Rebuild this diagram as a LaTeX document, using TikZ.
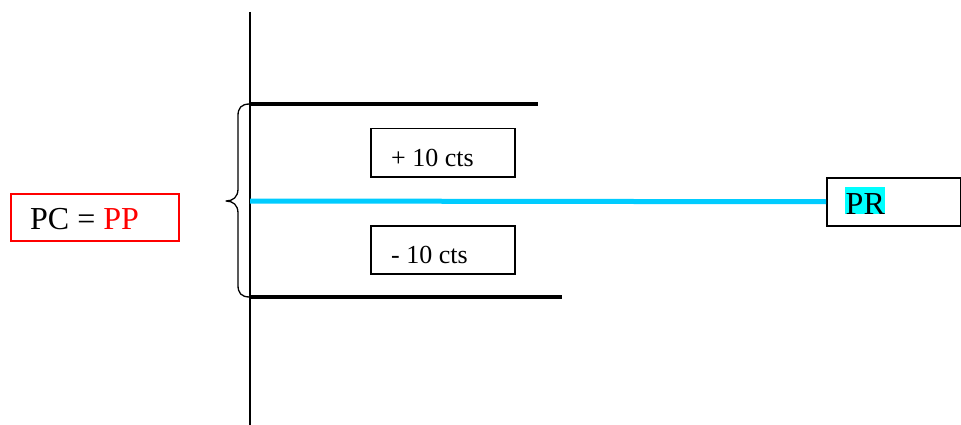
\documentclass[tikz,border=0pt]{standalone}
\usepackage{fontspec}
\setmainfont{Liberation Serif}
\usepackage{xcolor}
\definecolor{skyline}{RGB}{0,204,255}
\definecolor{hlcyan}{RGB}{0,255,255}
\definecolor{redbox}{RGB}{255,0,0}
\begin{document}
\begin{tikzpicture}[x=1pt,y=-1pt,
  box/.style={draw=black,line width=1.5pt,minimum width=144pt,minimum height=48pt,inner sep=0pt},
  lbl/.style={anchor=base west,inner sep=0pt,font=\fontsize{26}{30}\selectfont},
  biglbl/.style={anchor=base west,inner sep=0pt,font=\fontsize{32}{36}\selectfont},
  thick bar/.style={line width=4pt},
]
\useasboundingbox (0,0) rectangle (961,425);
\fill[white] (0,0) rectangle (961,425);
% axis
\coordinate (axtop) at (250,12);
\coordinate (axbot) at (250,425);
\draw[line width=1.5pt] (axtop) -- (axbot);
% bars
\coordinate (t0) at (250,104); \coordinate (t1) at (538,104);
\coordinate (b0) at (250,297); \coordinate (b1) at (562,297);
\draw[thick bar] (t0) -- (t1);
\draw[thick bar] (b0) -- (b1);
% boxes
\node[box,anchor=north west] (plus) at (370,128) {};
\node[box,anchor=north west] (minus) at (370,225) {};
\node[lbl] (plust) at (391,167) {+ 10 cts};
\node[lbl] (minust) at (391,263) {- 10 cts};
% PC box
\node[draw=redbox,line width=1.5pt,anchor=north west,minimum width=168pt,minimum height=47pt,inner sep=0pt] (pc) at (10,193) {};
\node[biglbl] (pct) at (30,229) {PC = \textcolor{redbox}{PP}};
% PR box
\node[draw=black,line width=1.5pt,anchor=north west,minimum width=134pt,minimum height=48pt,inner sep=0pt] (pr) at (826,177) {};
\node[biglbl,fill=hlcyan,inner xsep=0.5pt,text height=27pt,text depth=0pt] (prt) at (845,214) {PR};
% cyan line
\draw[skyline,line width=5pt] (250,201) -- (pr.west);
% brace
\draw[line width=1.3pt,line join=round]
  (t0) .. controls (241,104) and (238,108) .. (238,116)
  -- (238,189) .. controls (238,197) and (233,201) .. (226,201)
  .. controls (233,201) and (238,205) .. (238,213)
  -- (238,285) .. controls (238,293) and (241,297) .. (b0);
\end{tikzpicture}
\end{document}
